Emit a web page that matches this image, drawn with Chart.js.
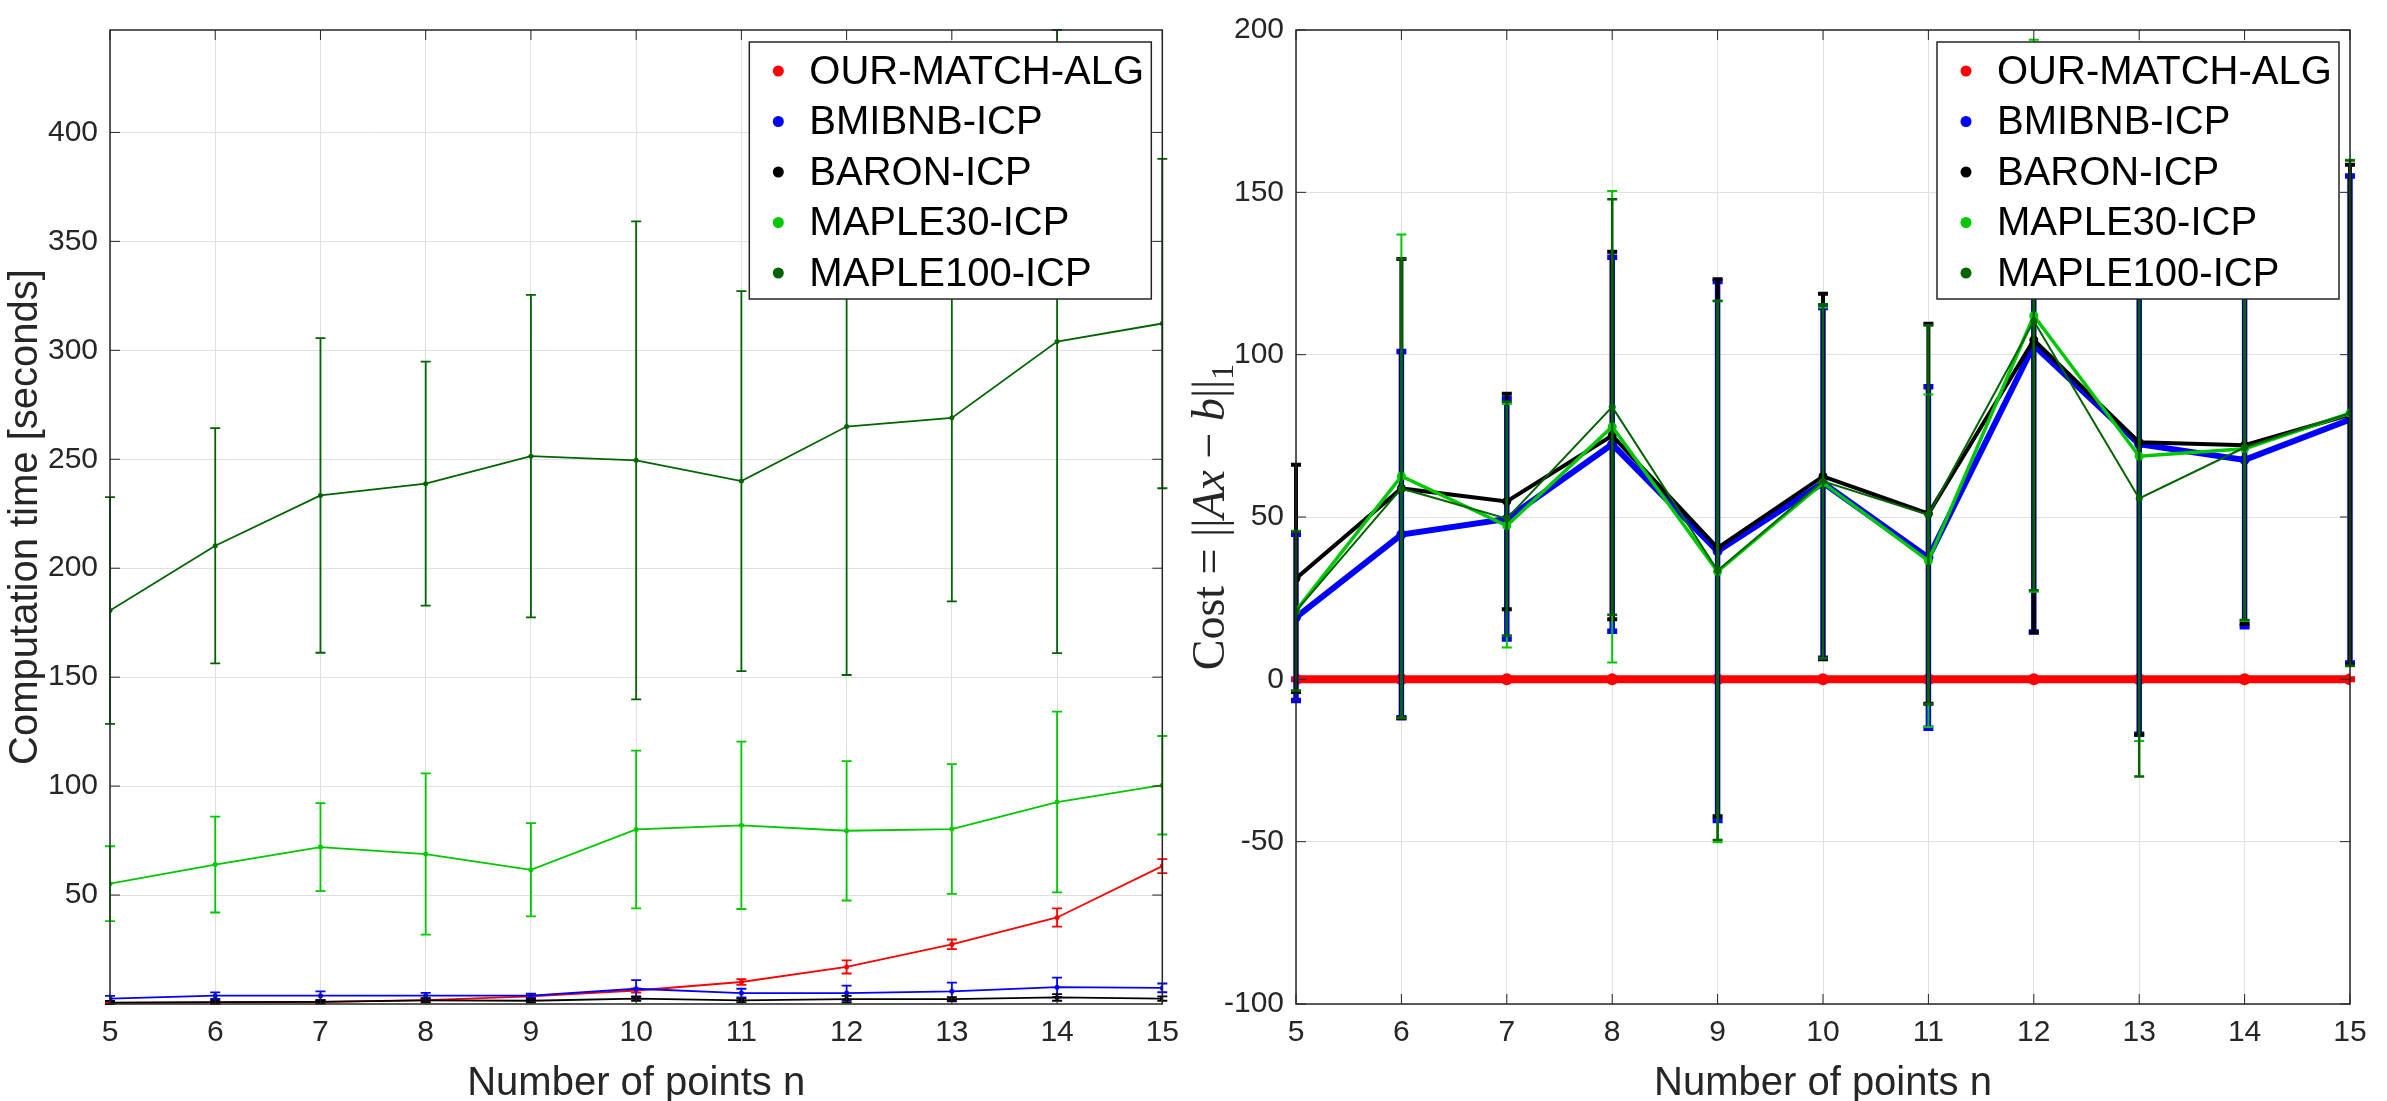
<!DOCTYPE html>
<html lang="en">
<head>
  <meta charset="UTF-8" />
  <title>Computation time and cost vs number of points</title>
  <style>
    html, body { margin: 0; padding: 0; background: #fff; }
    body { width: 2387px; height: 1101px; position: relative; overflow: hidden; }
    .panel { position: absolute; top: 0; height: 1101px; }
    #leftPanel { left: 0; width: 1190px; }
    #rightPanel { left: 1190px; width: 1197px; }
  </style>
  <script src="https://cdn.jsdelivr.net/npm/chart.js"></script>
</head>
<body>
  <div class="panel" id="leftPanel"><canvas id="timeChart" width="1190" height="1101"></canvas></div>
  <div class="panel" id="rightPanel"><canvas id="costChart" width="1197" height="1101"></canvas></div>

  <script>
    // x values and tick labels
    const nPoints = [5, 6, 7, 8, 9, 10, 11, 12, 13, 14, 15];
    const xTicks = [5, 6, 7, 8, 9, 10, 11, 12, 13, 14, 15];
    const timeTicks = [50, 100, 150, 200, 250, 300, 350, 400];
    const costTicks = [-100, -50, 0, 50, 100, 150, 200];

    const seriesNames = ["OUR-MATCH-ALG", "BMIBNB-ICP", "BARON-ICP", "MAPLE30-ICP", "MAPLE100-ICP"];
    const seriesColors = ["#ff0000", "#0000ff", "#000000", "#00c800", "#006400"];

    // left panel: computation time (mean and +/- error)
    const timeOurMean = [0.5, 0.7, 1.0, 1.8, 3.5, 6.2, 10.1, 17.0, 27.4, 39.7, 63.3];
    const timeOurErr = [0.4, 0.4, 0.5, 0.6, 0.8, 1.0, 1.3, 3.0, 2.2, 4.2, 3.2];
    const timeBmibnbMean = [2.5, 3.8, 3.8, 3.8, 3.8, 7.0, 5.0, 5.0, 5.8, 7.7, 7.4];
    const timeBmibnbErr = [1.2, 1.5, 2.0, 1.3, 1.0, 4.0, 2.0, 3.4, 4.0, 4.4, 2.0];
    const timeBaronMean = [0.6, 0.9, 1.0, 1.7, 1.5, 2.5, 1.7, 2.2, 2.2, 3.0, 2.5];
    const timeBaronErr = [0.8, 0.8, 0.8, 1.0, 0.8, 1.0, 0.8, 1.5, 1.0, 1.5, 1.0];
    const timeMaple30Mean = [55.2, 64.0, 72.0, 68.8, 61.6, 80.1, 82.0, 79.5, 80.3, 92.7, 100.4];
    const timeMaple30Err = [17.2, 22.0, 20.2, 37.0, 21.4, 36.2, 38.4, 32.0, 29.8, 41.5, 22.6];
    const timeMaple100Mean = [180.6, 210.3, 233.4, 238.8, 251.4, 249.5, 240.0, 265.0, 269.0, 304.0, 312.3];
    const timeMaple100Err = [52.0, 54.0, 72.2, 56.0, 74.0, 109.7, 87.2, 114.0, 84.2, 143.0, 75.6];

    // right panel: cost ||Ax-b||_1 (mean and +/- error)
    const costOurMean = [0, 0, 0, 0, 0, 0, 0, 0, 0, 0, 0];
    const costOurErr = [0, 0, 0, 0, 0, 0, 0, 0, 0, 0, 0];
    const costBmibnbMean = [19.1, 44.6, 49.4, 72.4, 39.5, 60.5, 37.5, 102.9, 72.4, 67.6, 80.0];
    const costBmibnbErr = [25.6, 56.4, 37.0, 57.6, 83.0, 54.0, 52.6, 88.3, 89.3, 51.4, 75.0];
    const costBaronMean = [31.1, 58.8, 54.8, 75.1, 40.5, 62.5, 51.0, 104.5, 73.0, 72.1, 81.5];
    const costBaronErr = [35.0, 70.7, 33.2, 56.6, 82.7, 56.3, 58.5, 90.0, 90.0, 55.0, 77.0];
    const costMaple30Mean = [21.2, 62.6, 47.3, 77.8, 33.2, 60.5, 36.5, 112.0, 68.7, 71.0, 82.0];
    const costMaple30Err = [24.6, 74.4, 37.5, 72.6, 83.4, 54.0, 51.2, 85.0, 87.7, 53.0, 78.0];
    const costMaple100Mean = [21.0, 58.8, 49.5, 83.9, 33.5, 61.0, 50.7, 110.4, 55.7, 71.4, 82.0];
    const costMaple100Err = [24.5, 70.7, 36.0, 64.0, 83.0, 54.5, 58.3, 83.0, 85.6, 53.1, 77.8];

    const sansFont = '"Liberation Sans", Arial, Helvetica, sans-serif';
    const serifFont = '"Liberation Serif", "DejaVu Serif", "Times New Roman", serif';
    const axisInk = "#262626";

    Chart.defaults.font.family = sansFont;

    // vertical error bars with caps, drawn right after each line
    const errorBars = {
      id: "errorBars",
      afterDatasetDraw(chart, args) {
        const ds = chart.data.datasets[args.index];
        if (!ds.err) return;
        const { ctx, chartArea: a, scales: { x, y } } = chart;
        const cap = 5;
        ctx.save();
        ctx.beginPath();
        ctx.rect(a.left - 8, a.top - 1, a.width + 16, a.height + 2);
        ctx.clip();
        ctx.strokeStyle = ds.borderColor;
        ctx.lineWidth = ds.errWidth;
        ds.data.forEach((p, i) => {
          const e = ds.err[i];
          const px = x.getPixelForValue(p.x);
          const lo = y.getPixelForValue(p.y - e);
          const hi = y.getPixelForValue(p.y + e);
          ctx.beginPath();
          ctx.moveTo(px, lo); ctx.lineTo(px, hi);
          ctx.moveTo(px - cap, lo); ctx.lineTo(px + cap, lo);
          ctx.moveTo(px - cap, hi); ctx.lineTo(px + cap, hi);
          ctx.stroke();
        });
        ctx.restore();
      }
    };

    // matlab style box with inward ticks on all four sides
    const frameAndTicks = {
      id: "frameAndTicks",
      afterDatasetsDraw(chart) {
        const { ctx, chartArea: a, scales: { x, y } } = chart;
        const len = 10;
        ctx.save();
        ctx.strokeStyle = axisInk;
        ctx.lineWidth = 1.5;
        ctx.strokeRect(a.left, a.top, a.width, a.height);
        ctx.beginPath();
        x.ticks.forEach(t => {
          const px = x.getPixelForValue(t.value);
          ctx.moveTo(px, a.bottom); ctx.lineTo(px, a.bottom - len);
          ctx.moveTo(px, a.top); ctx.lineTo(px, a.top + len);
        });
        y.ticks.forEach(t => {
          const py = y.getPixelForValue(t.value);
          ctx.moveTo(a.left, py); ctx.lineTo(a.left + len, py);
          ctx.moveTo(a.right, py); ctx.lineTo(a.right - len, py);
        });
        ctx.lineWidth = 1;
        ctx.stroke();
        ctx.restore();
      }
    };

    // boxed legend in the top right corner of the plot area
    const boxLegend = {
      id: "boxLegend",
      afterDraw(chart) {
        const { ctx, chartArea: a } = chart;
        const w = 402, h = 257;
        const right = a.right - 11, top = a.top + 12, left = right - w;
        ctx.save();
        ctx.fillStyle = "#fff";
        ctx.fillRect(left, top, w, h);
        ctx.strokeStyle = axisInk;
        ctx.lineWidth = 1.5;
        ctx.strokeRect(left, top, w, h);
        ctx.font = "40px " + sansFont;
        ctx.textBaseline = "middle";
        ctx.textAlign = "left";
        chart.data.datasets.forEach((ds, i) => {
          const cy = top + 29 + i * 50.5;
          ctx.fillStyle = ds.borderColor;
          ctx.beginPath();
          ctx.arc(left + 29, cy, 5.5, 0, Math.PI * 2);
          ctx.fill();
          ctx.fillStyle = "#000";
          ctx.fillText(ds.label, left + 60, cy + 1.5);
        });
        ctx.restore();
      }
    };

    // axis titles; the y title may be split in parts with different fonts
    function makeTitles(xTitle, yParts, yBaselineX) {
      return {
        id: "axisText",
        afterDraw(chart) {
          const { ctx, chartArea: a } = chart;
          ctx.save();
          ctx.fillStyle = axisInk;
          ctx.textBaseline = "alphabetic";
          ctx.textAlign = "center";
          ctx.font = "40px " + sansFont;
          ctx.fillText(xTitle, (a.left + a.right) / 2, 1095);

          ctx.translate(yBaselineX, (a.top + a.bottom) / 2);
          ctx.rotate(-Math.PI / 2);
          ctx.textAlign = "left";
          let total = 0;
          yParts.forEach(p => { ctx.font = p.font; total += ctx.measureText(p.text).width; });
          let cx = -total / 2;
          yParts.forEach(p => {
            ctx.font = p.font;
            ctx.fillText(p.text, cx, p.dy || 0);
            cx += ctx.measureText(p.text).width;
          });
          ctx.restore();
        }
      };
    }

    function buildChart(canvasId, cfg) {
      const datasets = cfg.series.map((s, i) => ({
        label: seriesNames[i],
        data: nPoints.map((n, k) => ({ x: n, y: s.mean[k] })),
        err: s.err,
        errWidth: s.errWidth,
        borderColor: seriesColors[i],
        backgroundColor: seriesColors[i],
        borderWidth: s.width,
        pointRadius: s.radius,
        pointHoverRadius: s.radius,
        pointBackgroundColor: seriesColors[i],
        pointBorderWidth: 0,
        tension: 0,
        order: cfg.series.length - i
      }));

      const tickFont = { size: 30, family: sansFont };
      const gridOpts = { color: "#e0e0e0", lineWidth: 1, drawTicks: false };

      return new Chart(document.getElementById(canvasId), {
        type: "line",
        data: { datasets },
        options: {
          responsive: false,
          animation: false,
          devicePixelRatio: 1,
          layout: { padding: { top: 21, right: cfg.padRight, left: 0, bottom: 0 } },
          plugins: { legend: { display: false }, tooltip: { enabled: false } },
          scales: {
            x: {
              type: "linear",
              min: 5,
              max: 15,
              afterBuildTicks: s => { s.ticks = xTicks.map(v => ({ value: v })); },
              afterFit: s => { s.height = 97; },
              grid: gridOpts,
              border: { display: false },
              ticks: { font: tickFont, color: axisInk, padding: 11, autoSkip: false, maxRotation: 0 }
            },
            y: {
              type: "linear",
              min: cfg.yMin,
              max: cfg.yMax,
              afterBuildTicks: s => { s.ticks = cfg.yTicks.map(v => ({ value: v })); },
              afterFit: s => { s.width = cfg.yWidth; },
              grid: gridOpts,
              border: { display: false },
              ticks: { font: tickFont, color: axisInk, padding: 12, autoSkip: false }
            }
          }
        },
        plugins: [errorBars, frameAndTicks, boxLegend, makeTitles(cfg.xTitle, cfg.yParts, cfg.yBaselineX)]
      });
    }

    buildChart("timeChart", {
      yMin: 0,
      yMax: 447,
      yTicks: timeTicks,
      yWidth: 110,
      padRight: 25,
      xTitle: "Number of points n",
      yBaselineX: 37,
      yParts: [{ text: "Computation time [seconds]", font: "40px " + sansFont }],
      series: [
        { mean: timeOurMean, err: timeOurErr, width: 1.8, errWidth: 1.8, radius: 2.5 },
        { mean: timeBmibnbMean, err: timeBmibnbErr, width: 1.8, errWidth: 1.8, radius: 2.5 },
        { mean: timeBaronMean, err: timeBaronErr, width: 1.8, errWidth: 1.8, radius: 2.5 },
        { mean: timeMaple30Mean, err: timeMaple30Err, width: 1.8, errWidth: 1.8, radius: 2.5 },
        { mean: timeMaple100Mean, err: timeMaple100Err, width: 1.8, errWidth: 1.8, radius: 2.5 }
      ]
    });

    buildChart("costChart", {
      yMin: -100,
      yMax: 200,
      yTicks: costTicks,
      yWidth: 106,
      padRight: 37,
      xTitle: "Number of points n",
      yBaselineX: 34,
      yParts: [
        { text: "Cost", font: "46px " + serifFont },
        { text: " = ", font: "46px " + serifFont },
        { text: "||", font: "46px " + serifFont },
        { text: "Ax", font: "italic 46px " + serifFont },
        { text: " \u2212 ", font: "46px " + serifFont },
        { text: "b", font: "italic 46px " + serifFont },
        { text: "||", font: "46px " + serifFont },
        { text: "1", font: "32px " + serifFont, dy: 9 }
      ],
      series: [
        { mean: costOurMean, err: costOurErr, width: 8, errWidth: 6, radius: 6 },
        { mean: costBmibnbMean, err: costBmibnbErr, width: 6, errWidth: 5.5, radius: 5 },
        { mean: costBaronMean, err: costBaronErr, width: 4, errWidth: 4, radius: 4.5 },
        { mean: costMaple30Mean, err: costMaple30Err, width: 3.5, errWidth: 2, radius: 4.5 },
        { mean: costMaple100Mean, err: costMaple100Err, width: 2, errWidth: 2.5, radius: 3.5 }
      ]
    });
  </script>
</body>
</html>
